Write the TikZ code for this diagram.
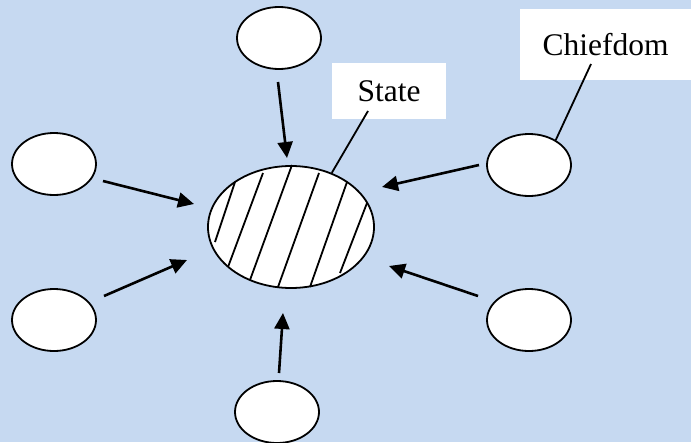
\documentclass[tikz,border=0pt]{standalone}
\usepackage{fontspec}
\setmainfont{Liberation Serif}
\usetikzlibrary{shapes.geometric,arrows.meta}
\definecolor{bgblue}{HTML}{C6D9F1}
\tikzset{
  blob/.style={ellipse,draw=black,fill=white,line width=1.8pt,minimum width=84pt,minimum height=62pt,inner sep=0pt},
  bigblob/.style={ellipse,draw=black,fill=white,line width=1.8pt,minimum width=166pt,minimum height=122pt,inner sep=0pt},
  labelbox/.style={fill=white,inner sep=0pt,font=\fontsize{31.5}{36}\selectfont},
  feed/.style={line width=2.6pt,-{Triangle[length=16pt,width=15pt]}},
  callout/.style={line width=1.8pt},
  hatch/.style={line width=1.8pt}
}
\begin{document}
\begin{tikzpicture}[x=1pt,y=-1pt]
\useasboundingbox (0,0) rectangle (691,442);
\fill[bgblue] (0,0) rectangle (691,442);

% ellipses
\node[bigblob] (state) at (291,227) {};
\node[blob] (top) at (279,38) {};
\node[blob] (ul) at (54,164) {};
\node[blob] (ll) at (54,320) {};
\node[blob] (bot) at (277,412) {};
\node[blob] (ur) at (529,165) {};
\node[blob] (lr) at (529,320) {};

% hatching of the central ellipse
\draw[hatch] (235,182) -- (215,242);
\draw[hatch] (263,173) -- (228,267);
\draw[hatch] (292,165) -- (250,280);
\draw[hatch] (319,173) -- (278,287);
\draw[hatch] (347,182) -- (310,287);
\draw[hatch] (367,203) -- (340,273);

% labels
\node[labelbox,minimum width=114pt,minimum height=56pt] (statelbl) at (389,91) {\raisebox{-2pt}{State}};
\node[labelbox,minimum width=171pt,minimum height=71pt] (chieflbl) at (605.5,44.5) {Chiefdom};

% callout lines
\coordinate (sl) at (368,111);
\coordinate (cl) at (591,64);
\draw[callout] (sl) -- (state.53);
\draw[callout] (cl) -- (ur.43);

% arrow end points
\coordinate (a1s) at (278,82);  \coordinate (a1e) at (287,158);
\coordinate (a2s) at (103,181); \coordinate (a2e) at (194,204);
\coordinate (a3s) at (104,296); \coordinate (a3e) at (187,260);
\coordinate (a4s) at (279,373); \coordinate (a4e) at (283,313);
\coordinate (a5s) at (479,165); \coordinate (a5e) at (382,187);
\coordinate (a6s) at (478,296); \coordinate (a6e) at (389,266);

\draw[feed] (a1s) -- (a1e);
\draw[feed] (a2s) -- (a2e);
\draw[feed] (a3s) -- (a3e);
\draw[feed] (a4s) -- (a4e);
\draw[feed] (a5s) -- (a5e);
\draw[feed] (a6s) -- (a6e);
\end{tikzpicture}
\end{document}
